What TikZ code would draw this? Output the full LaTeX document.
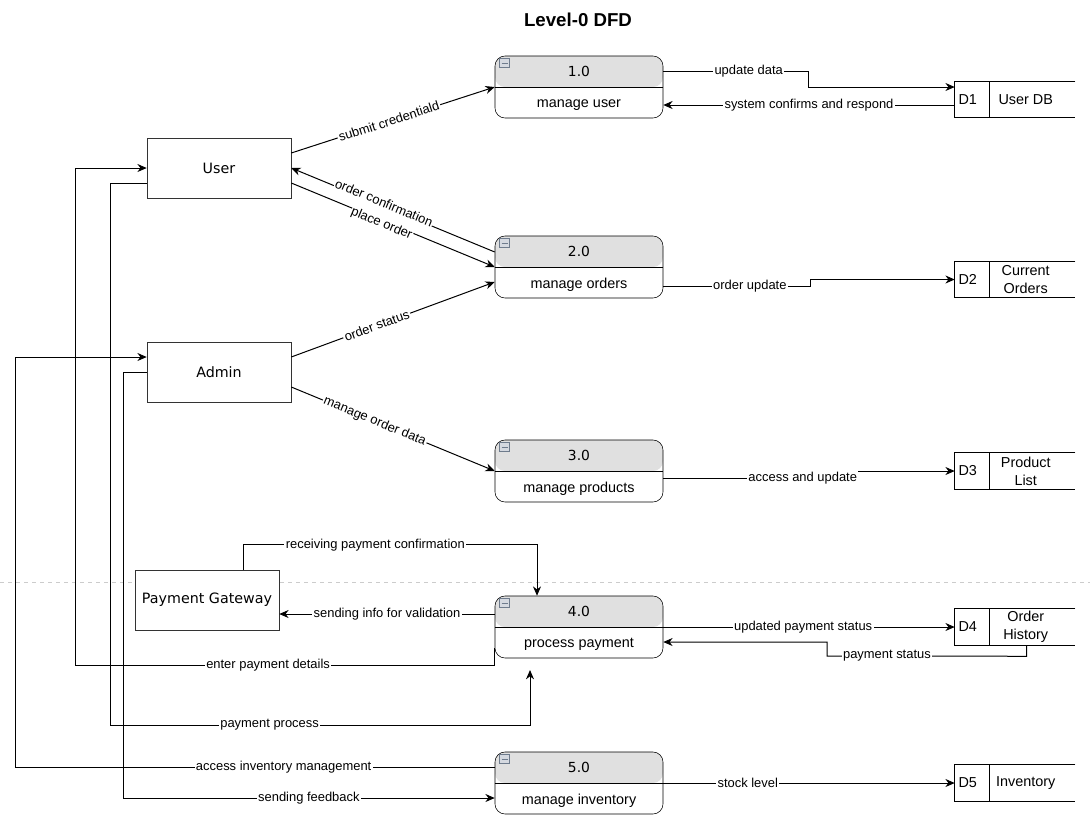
\documentclass[tikz,border=0pt]{standalone}
\usepackage{fontspec}
\setmainfont{Liberation Sans}
\newfontfamily\dejavu{DejaVu Sans}
\usetikzlibrary{positioning,calc,arrows.meta}
\definecolor{procgray}{HTML}{E0E0E0}
\definecolor{icongray}{HTML}{D5D9E0}
\definecolor{icondark}{HTML}{6E7B8C}

\begin{document}
\begin{tikzpicture}[
    x=0.75pt, y=-0.75pt,
    entity/.style={rectangle, draw=black!80, fill=white, minimum width=108pt, minimum height=45pt,
                   font=\dejavu\fontsize{10.7}{12}\selectfont},
    process/.style={rectangle, rounded corners=7.5pt, draw=black, fill=white, minimum width=126pt, minimum height=46.5pt,
                    path picture={\fill[procgray] (path picture bounding box.north west) rectangle (path picture bounding box.east);}},
    procnum/.style={minimum width=126pt, minimum height=23.25pt, inner sep=0pt, font=\dejavu\fontsize{10.4}{12}\selectfont},
    proctext/.style={minimum width=126pt, minimum height=23.25pt, inner sep=0pt, font=\fontsize{10.8}{12}\selectfont},
    store/.style={rectangle, minimum width=90pt, minimum height=27pt, inner sep=0pt},
    storetext/.style={inner sep=0pt, align=center, font=\fontsize{10.8}{13.5}\selectfont},
    flow/.style={-{Stealth[length=7pt, width=6pt]}, line width=0.75pt, black},
    elabel/.style={fill=white, inner sep=1pt, font=\fontsize{9.7}{11}\selectfont}
]
\useasboundingbox (0,0) rectangle (1090,822);

% Separator
\draw[gray!40, dashed, line width=0.6pt] (0,582) -- (1090,582);

% Title
\node[font=\bfseries\fontsize{14}{16}\selectfont] (title) at (578,20) {Level-0 DFD};

% External entities
\node[entity] (user) at (219,168) {User};
\node[entity] (admin) at (219,372) {Admin};
\node[entity] (gate) at (207,600) {Payment Gateway};

% Processes
\node[process] (p1) at (579,87) {};
\node[process] (p2) at (579,267) {};
\node[process] (p3) at (579,471) {};
\node[process] (p4) at (579,627) {};
\node[process] (p5) at (579,783) {};

\foreach \p in {p1,p2,p3,p4,p5} {
    \draw[line width=0.75pt] (\p.west) -- (\p.east);
    \draw[fill=icongray, draw=icondark, line width=0.5pt] ($(\p.north west)+(5,3)$) rectangle ($(\p.north west)+(15,12)$);
    \draw[icondark, line width=0.8pt] ($(\p.north west)+(7,7.5)$) -- ($(\p.north west)+(13,7.5)$);
}

\node[procnum, above=0pt of p1.center] (n1) {1.0};
\node[proctext, below=1.5pt of p1.center] (t1) {manage user};
\node[procnum, above=0pt of p2.center] (n2) {2.0};
\node[proctext, below=1.5pt of p2.center] (t2) {manage orders};
\node[procnum, above=0pt of p3.center] (n3) {3.0};
\node[proctext, below=1.5pt of p3.center] (t3) {manage products};
\node[procnum, above=0pt of p4.center] (n4) {4.0};
\node[proctext, below=1.5pt of p4.center] (t4) {process payment};
\node[procnum, above=0pt of p5.center] (n5) {5.0};
\node[proctext, below=1.5pt of p5.center] (t5) {manage inventory};

% Data stores
\node[store] (d1) at (1015,99.5) {};
\node[store] (d2) at (1015,279.5) {};
\node[store] (d3) at (1015,471) {};
\node[store] (d4) at (1015,627) {};
\node[store] (d5) at (1015,783) {};

\foreach \d in {d1,d2,d3,d4,d5} {
    \draw[line width=0.75pt] (\d.north east) -- (\d.north west) -- (\d.south west) -- (\d.south east);
    \draw[line width=0.75pt] ($(\d.north west)+(35,0)$) -- ($(\d.south west)+(35,0)$);
}

\node[storetext] at ($(d1.west)+(13,0)$) {D1};
\node[storetext] at ($(d1.west)+(71,0)$) {User DB};
\node[storetext] at ($(d2.west)+(13,0)$) {D2};
\node[storetext] at ($(d2.west)+(71,0)$) {Current\\Orders};
\node[storetext] at ($(d3.west)+(13,0)$) {D3};
\node[storetext] at ($(d3.west)+(71,0)$) {Product\\List};
\node[storetext] at ($(d4.west)+(13,0)$) {D4};
\node[storetext] at ($(d4.west)+(71,0)$) {Order\\History};
\node[storetext] at ($(d5.west)+(13,0)$) {D5};
\node[storetext] at ($(d5.west)+(71,0)$) {Inventory};

\coordinate (payin) at (530,670);

% Flows between entities and processes
\draw[flow] ($(user.east)+(0,-15)$) -- node[elabel, sloped, pos=0.48] {submit credentiald} (p1.west);
\draw[flow] ($(p2.west)+(0,-15)$) -- node[elabel, sloped, pos=0.55, yshift=2.5pt, inner sep=0.5pt] {order confirmation} (user.east);
\draw[flow] ($(user.east)+(0,15)$) -- node[elabel, sloped, pos=0.45, yshift=-2.5pt, inner sep=0.5pt] {place order} (p2.west);
\draw[flow] ($(admin.east)+(0,-15)$) -- node[elabel, sloped, pos=0.42] {order status} ($(p2.west)+(0,15)$);
\draw[flow] ($(admin.east)+(0,15)$) -- node[elabel, sloped, pos=0.41] {manage order data} (p3.west);

% Flows between processes and stores
\draw[flow] ($(p1.east)+(0,-16)$) -- node[elabel, pos=0.59] {update data} (808,71) |- ($(d1.west)+(0,-12.5)$);
\draw[flow] ($(d1.west)+(0,5.5)$) -- node[elabel, pos=0.5] {system confirms and respond} ($(p1.east)+(0,18)$);
\draw[flow] ($(p2.east)+(0,19)$) -- node[elabel, pos=0.59] {order update} (810,286) |- (d2.west);
\draw[flow] ($(p3.east)+(0,7)$) -- node[elabel, pos=0.72] {access and update} (857,478) |- (d3.west);
\draw[flow] (p4.east) -- node[elabel, pos=0.48] {updated payment status} (d4.west);
\draw[flow] ($(d4.south west)+(72,0)$) -- ++(0,11) -- node[elabel, pos=0.7] {payment status} (827,656) |- ($(p4.east)+(0,15)$);
\draw[flow] (p5.east) -- node[elabel, pos=0.29] {stock level} (d5.west);

% Payment gateway
\draw[flow] ($(gate.north)+(36,0)$) -- ++(0,-25) -- node[elabel, pos=0.45] {receiving payment confirmation} ++(294,0) -- ($(p4.north)+(-42,0)$);
\draw[flow] ($(p4.west)+(0,-13)$) -- node[elabel, pos=0.5] {sending info for validation} ($(gate.east)+(0,14)$);

% Long return paths on the left
\draw[flow] ($(p4.west)+(0,21)$) -- ++(0,17) -- node[elabel, pos=0.54] {enter payment details} (75,665) |- (user.west);
\draw[flow] ($(user.west)+(0,15)$) -| (110,725) -- node[elabel, pos=0.38] {payment process} (530,725) -- (payin);
\draw[flow] (admin.west) -| (123,798) -- node[elabel, pos=0.5] {sending feedback} ($(p5.west)+(0,15)$);
\draw[flow] ($(p5.west)+(0,-16)$) -- node[elabel, pos=0.44] {access inventory management} (15,767) |- ($(admin.west)+(0,-15)$);

\end{tikzpicture}
\end{document}
